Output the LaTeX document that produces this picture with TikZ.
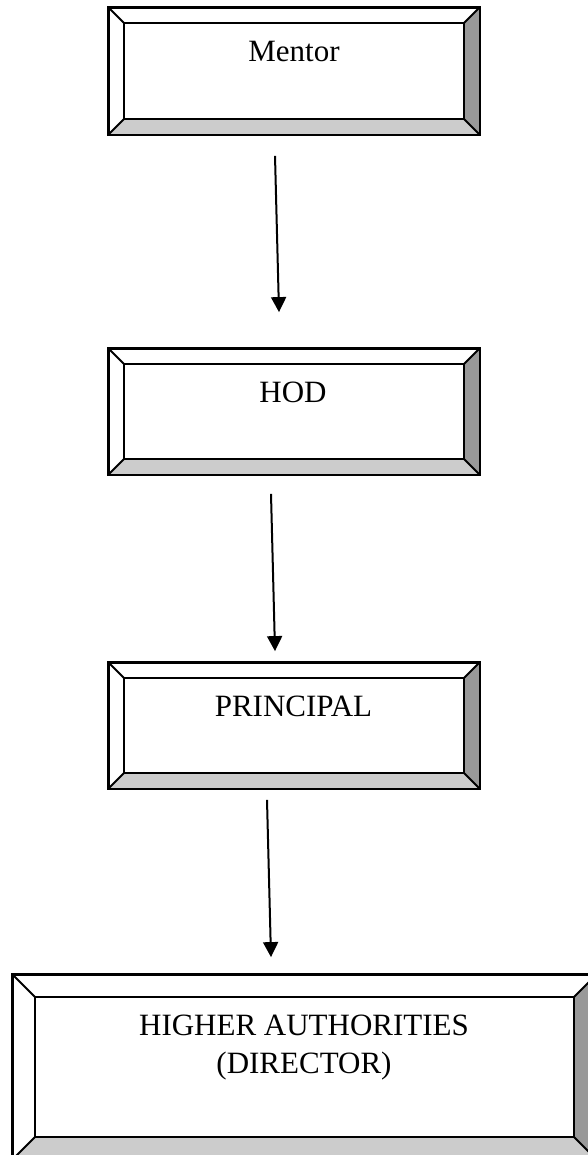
\documentclass[tikz,border=0pt]{standalone}
\usepackage{fontspec}
\setmainfont{Liberation Serif}
\usetikzlibrary{arrows.meta,calc}
\definecolor{bevdark}{HTML}{999999}
\definecolor{bevlight}{HTML}{CCCCCC}
\tikzset{
  boxframe/.style={draw=black, line width=1.8pt, fill=white, rectangle, inner sep=0pt},
  bevline/.style={draw=black, line width=1.8pt, line join=miter},
  lbl/.style={font=\fontsize{31}{38}\selectfont, inner sep=0pt, anchor=base, text=black},
  flow/.style={line width=2pt, -{Triangle[length=15pt,width=15pt]}},
}
\newcommand{\mybevels}[2]{%
  \coordinate (#1-inw) at ($(#1.north west)+(#2,#2)$);
  \coordinate (#1-ine) at ($(#1.north east)+(-#2,#2)$);
  \coordinate (#1-ise) at ($(#1.south east)+(-#2,-#2)$);
  \coordinate (#1-isw) at ($(#1.south west)+(#2,-#2)$);
  \fill[bevdark] (#1.north east) -- (#1.south east) -- (#1-ise) -- (#1-ine) -- cycle;
  \fill[bevlight] (#1.south west) -- (#1.south east) -- (#1-ise) -- (#1-isw) -- cycle;
  \draw[bevline] (#1-inw) rectangle (#1-ise);
  \draw[bevline] (#1.north west) -- (#1-inw);
  \draw[bevline] (#1.north east) -- (#1-ine);
  \draw[bevline] (#1.south east) -- (#1-ise);
  \draw[bevline] (#1.south west) -- (#1-isw);
  \draw[bevline] (#1.north west) rectangle (#1.south east);
}
\begin{document}
\begin{tikzpicture}[x=1pt,y=-1pt]
\useasboundingbox (0,0) rectangle (587,1155);
\fill[white] (0,0) rectangle (587,1155);

\node[boxframe, minimum width=370pt, minimum height=126pt] (mentor) at (294,71) {};
\mybevels{mentor}{16}
\node[lbl] (mentortxt) at (294,62) {Mentor};

\node[boxframe, minimum width=370pt, minimum height=125pt] (hod) at (294,411.5) {};
\mybevels{hod}{16}
\node[lbl] (hodtxt) at (293,402) {HOD};

\node[boxframe, minimum width=370pt, minimum height=125pt] (principal) at (294,725.5) {};
\mybevels{principal}{16}
\node[lbl] (principaltxt) at (293.5,716) {PRINCIPAL};

\node[boxframe, minimum width=583pt, minimum height=184pt] (higher) at (304.5,1067) {};
\mybevels{higher}{23}
\node[lbl] (highertxt) at (304,1035) {HIGHER AUTHORITIES};
\node[lbl] (directortxt) at (304,1073) {(DIRECTOR)};

\draw[flow] ($(mentor.south)+(-19,21)$) -- ($(hod.north)+(-15,-36)$);
\draw[flow] ($(hod.south)+(-23,19)$) -- ($(principal.north)+(-19,-11)$);
\draw[flow] ($(principal.south)+(-27,11)$) -- ($(higher.north)+(-33.5,-17)$);
\end{tikzpicture}
\end{document}
